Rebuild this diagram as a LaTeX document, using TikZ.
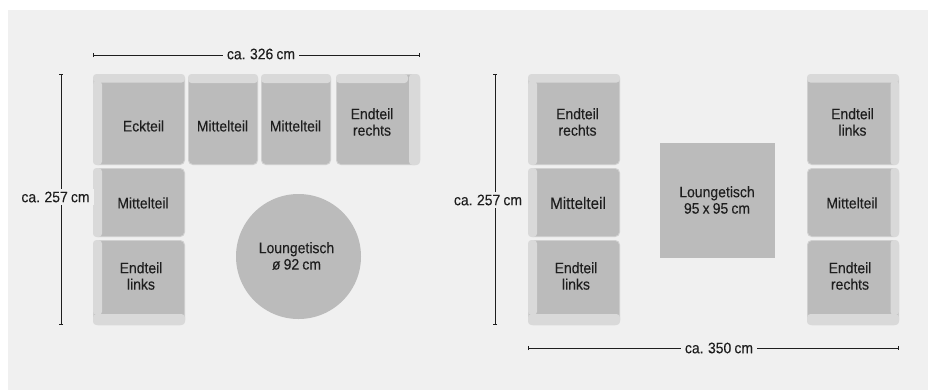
\documentclass[tikz,border=0pt]{standalone}
\usetikzlibrary{arrows.meta}
\usepackage{fontspec}
\setmainfont[FakeStretch=0.92,FakeBold=0.12,WordSpace=0.8]{Liberation Sans}
\definecolor{bgc}{HTML}{F0F0F0}
\definecolor{arm}{HTML}{D9D9D9}
\definecolor{seat}{HTML}{BBBBBB}
\definecolor{ink}{HTML}{1E1E1E}
\tikzset{
  x=0.75pt,y=-0.75pt,
  rim/.style={fill=arm!70!seat,rounded corners=3.5pt,draw=none},
  seatp/.style={fill=seat,rounded corners=3pt,draw=none},
  armp/.style={fill=arm,rounded corners=2.6pt,draw=none},
  lab/.style={font=\fontsize{11.4pt}{12.3pt}\selectfont,text=ink,align=center,inner sep=0pt},
  biglab/.style={lab,font=\fontsize{12.4pt}{13pt}\selectfont},
  dimlab/.style={lab,fill=bgc,inner xsep=3pt,inner ysep=2pt},
  dimline/.style={draw=ink,line width=0.7pt,{Bar[width=3pt,length=0.6pt]}-{Bar[width=3pt,length=0.6pt]}},
}
\newcommand{\cushion}[4]{%
  \fill[rim] (#1,#2) rectangle (#3,#4);
  \fill[seatp] (#1+1,#2+1) rectangle (#3-1,#4-1);
}
\newcommand{\strip}[4]{\fill[armp] (#1,#2) rectangle (#3,#4);}
\begin{document}
\begin{tikzpicture}
\useasboundingbox (0,0) rectangle (928,390);
\fill[white] (0,0) rectangle (928,390);
\fill[bgc] (8,10) rectangle (928,390);
% left set
\cushion{93}{74}{185}{165}
\strip{93}{81}{102}{165}
\strip{93}{74}{185}{82.5}
\cushion{188}{74}{258}{165}
\strip{188}{74}{258}{83}
\cushion{261}{74}{331}{165}
\strip{261}{74}{331}{83}
\cushion{336}{74}{420}{165}
\strip{409}{74}{420}{165}
\strip{336}{74}{408}{83}
\cushion{93}{168}{185}{237}
\strip{93}{168}{102}{237}
\cushion{93}{240}{185}{325}
\strip{93}{240}{102}{315}
\strip{93}{314}{185}{325}
\node[lab] (eck) at (143.5,126) {Eckteil};
\node[lab] (m1) at (222.5,126) {Mittelteil};
\node[lab] (m2) at (295.5,126) {Mittelteil};
\node[lab] (er) at (372,122) {Endteil\\rechts};
\node[lab] (m3) at (143,203) {Mittelteil};
\node[lab] (el) at (141,276) {Endteil\\links};
\node[circle,fill=seat,minimum size=93.75pt,inner sep=0pt] (rund) at (298.5,256.5) {};
\node[lab] at (296.5,256) {Loungetisch\\ø 92 cm};
% right set
\cushion{528}{74}{620}{165}
\strip{528}{81}{537}{165}
\strip{528}{74}{620}{82.5}
\cushion{528}{168}{620}{237}
\strip{528}{168}{537}{237}
\cushion{528}{240}{620}{325}
\strip{528}{240}{537}{315}
\strip{528}{314}{620}{325}
\cushion{807}{74}{899}{165}
\strip{890.5}{81}{899}{165}
\strip{807}{74}{899}{82.5}
\cushion{807}{168}{899}{237}
\strip{890.5}{168}{899}{237}
\cushion{807}{240}{899}{325}
\strip{890.5}{240}{899}{315}
\strip{807}{314}{899}{325}
\node[lab] (a1) at (577.5,122) {Endteil\\rechts};
\node[biglab] (a2) at (578,203) {Mittelteil};
\node[lab] (a3) at (576,276) {Endteil\\links};
\node[lab] (b1) at (852.5,122) {Endteil\\links};
\node[lab] (b2) at (852,203) {Mittelteil};
\node[lab] (b3) at (850,276) {Endteil\\rechts};
\node[fill=seat,minimum size=86.25pt,inner sep=0pt] (tisch) at (717,200.5) {};
\node[lab] at (717,200) {Loungetisch\\95 x 95 cm};
% dimensions
\coordinate (t0) at (93,55); \coordinate (t1) at (420,55);
\draw[dimline] (t0) -- (t1);
\node[dimlab] (tl) at (261,54) {ca. 326 cm};
\coordinate (v0) at (61,74); \coordinate (v1) at (61,325);
\draw[dimline] (v0) -- (v1);
\node[dimlab] (vl) at (55.5,197) {ca. 257 cm};
\coordinate (w0) at (495,74); \coordinate (w1) at (495,325);
\draw[dimline] (w0) -- (w1);
\node[dimlab] (wl) at (488,200) {ca. 257 cm};
\coordinate (u0) at (528,348); \coordinate (u1) at (899,348);
\draw[dimline] (u0) -- (u1);
\node[dimlab] (ul) at (719,348) {ca. 350 cm};
\end{tikzpicture}
\end{document}
